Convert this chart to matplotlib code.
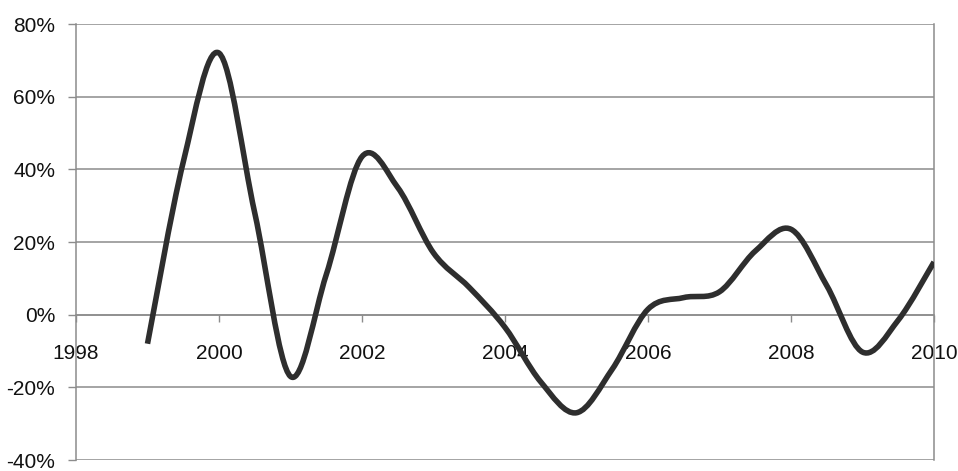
import matplotlib
matplotlib.use("Agg")
import matplotlib.pyplot as plt
from matplotlib.path import Path
from matplotlib.patches import PathPatch
import numpy as np

plt.rcParams['font.family'] = ['Liberation Sans', 'DejaVu Sans']

# Semiannual readings of the series (year, percent)
years = [1999.0, 1999.5, 2000.0, 2000.5, 2001.0, 2001.5, 2002.0, 2002.5,
         2003.0, 2003.5, 2004.0, 2004.5, 2005.0, 2005.5, 2006.0, 2006.5,
         2007.0, 2007.5, 2008.0, 2008.5, 2009.0, 2009.5, 2010.0]
values = [-8, 42, 72, 28, -17, 11, 43.5, 35,
          17, 7.5, -3.5, -18.5, -27, -15, 1.5, 4.7,
          6.3, 17.5, 23.5, 8, -10.3, -1.5, 14.5]

x_ticks = [1998, 2000, 2002, 2004, 2006, 2008, 2010]
y_ticks = [-40, -20, 0, 20, 40, 60, 80]
y_labels = ['-40%', '-20%', '0%', '20%', '40%', '60%', '80%']

fig = plt.figure(figsize=(9.58, 4.71), dpi=100)
ax = fig.add_axes([76/958, 11/471, (934-76)/958, (460-24)/471])
ax.set_xlim(1998, 2010)
ax.set_ylim(-40, 80)

grid_c = '#8c8c8c'
for yv in y_ticks:
    ax.axhline(yv, color=grid_c, lw=1.1, zorder=1)

# Excel-style smoothed line (Catmull-Rom -> cubic Bezier)
P = np.column_stack([years, values]).astype(float)
n = len(P)
verts = [tuple(P[0])]
codes = [Path.MOVETO]
for i in range(n - 1):
    p0 = P[i - 1] if i > 0 else P[i]
    p1 = P[i]
    p2 = P[i + 1]
    p3 = P[i + 2] if i + 2 < n else P[i + 1]
    c1 = p1 + (p2 - p0) / 6.0
    c2 = p2 - (p3 - p1) / 6.0
    verts += [tuple(c1), tuple(c2), tuple(p2)]
    codes += [Path.CURVE4] * 3
path = Path(verts, codes)
ax.add_patch(PathPatch(path, facecolor='none', edgecolor='#2e2e2e', lw=4,
                       capstyle='butt', joinstyle='round', zorder=3))

ax.spines['top'].set_visible(False)
ax.spines['bottom'].set_position(('data', 0))
for s in ['bottom', 'left', 'right']:
    ax.spines[s].set_color(grid_c)
    ax.spines[s].set_linewidth(1.1)

ax.set_xticks(x_ticks)
ax.set_xticklabels([str(v) for v in x_ticks])
ax.set_yticks(y_ticks)
ax.set_yticklabels(y_labels)
ax.tick_params(axis='x', direction='out', length=5, width=1, color=grid_c,
               pad=16, labelsize=15)
ax.tick_params(axis='y', direction='out', length=6, width=1, color=grid_c,
               pad=9, labelsize=15)
for t in ax.get_xticklabels() + ax.get_yticklabels():
    t.set_color('#111111')

fig.savefig('out.png', dpi=100, facecolor='white')
